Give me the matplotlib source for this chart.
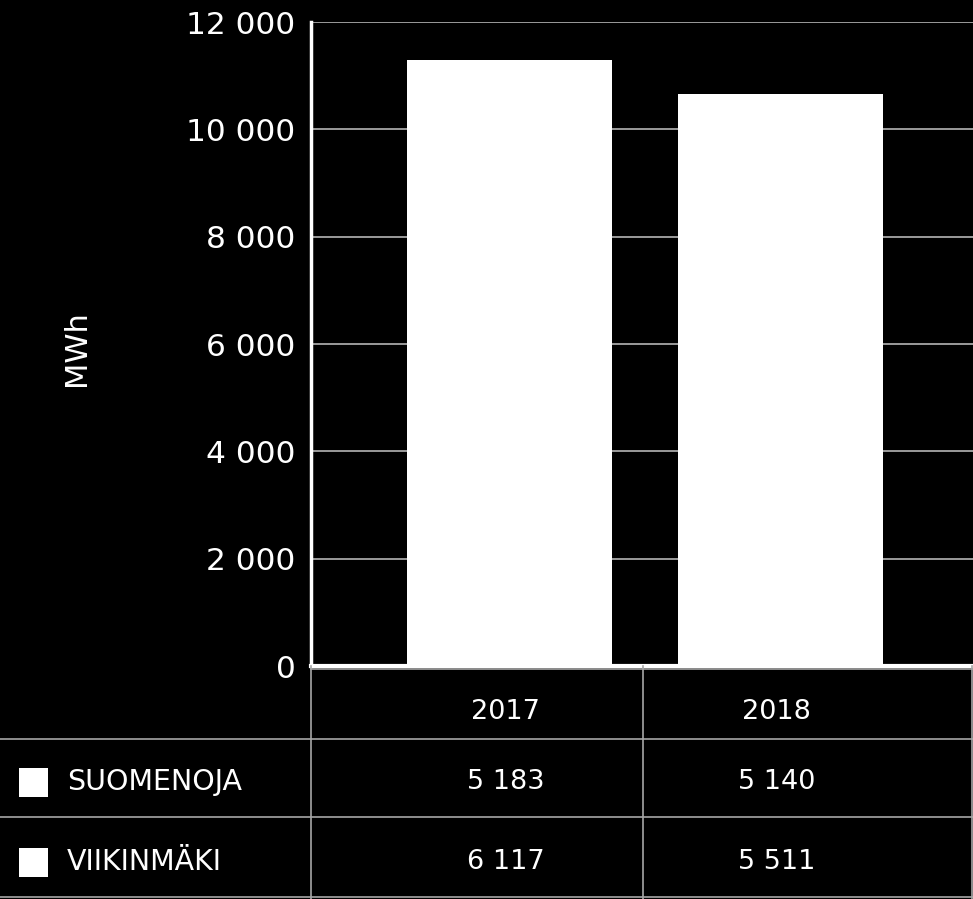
import matplotlib
matplotlib.use("Agg")
import matplotlib.pyplot as plt
from matplotlib.lines import Line2D
from matplotlib.patches import Rectangle
from matplotlib.ticker import FuncFormatter

# ---- data ----
years = ["2017", "2018"]
series_names = ["SUOMENOJA", "VIIKINMÄKI"]
suomenoja = [5183, 5140]
viikinmaki = [6117, 5511]
y_ticks = [0, 2000, 4000, 6000, 8000, 10000, 12000]
y_label = "MWh"

W, H = 973, 899
fig = plt.figure(figsize=(W / 100, H / 100), dpi=100, facecolor="black")
plt.rcParams["font.family"] = ["DejaVu Sans"]

def fx(px):
    return px / W

def fy(py):
    return 1 - py / H

ax_left, ax_right, ax_top, ax_bottom = 311, 973, 22, 666
ax = fig.add_axes([fx(ax_left), fy(ax_bottom), fx(ax_right - ax_left), fy(ax_top) - fy(ax_bottom)])
ax.set_facecolor("black")

x = list(range(len(years)))
bw = 0.756
ax.bar(x, suomenoja, width=bw, color="white", edgecolor="none", zorder=3)
ax.bar(x, viikinmaki, width=bw, bottom=suomenoja, color="white", edgecolor="none", zorder=3)

ax.set_xlim(-0.7325, 1.7103)
ax.set_ylim(0, 12000)
ax.set_yticks(y_ticks)
ax.yaxis.set_major_formatter(FuncFormatter(lambda v, p: f"{int(v):,}".replace(",", " ")))
ax.tick_params(axis="y", colors="white", labelsize=22.5, length=0, pad=11)
ax.tick_params(axis="x", length=0, labelbottom=False)
for t in ax.get_yticklabels():
    t.set_color("white")
ax.grid(axis="y", color="#c4c4c4", linewidth=1.1, zorder=1)
for s in ["top", "right"]:
    ax.spines[s].set_visible(False)
ax.spines["left"].set_color("white")
ax.spines["left"].set_linewidth(2.5)
ax.spines["bottom"].set_color("white")
ax.spines["bottom"].set_linewidth(3)
ax.spines["bottom"].set_zorder(4)

fig.text(fx(76), fy(348), y_label, rotation=90, color="white", fontsize=22,
         ha="center", va="center")

# ---- data table ----
line_col = "#a6a6a6"
def hline(py, x0, x1):
    fig.add_artist(Line2D([fx(x0), fx(x1)], [fy(py), fy(py)], color=line_col, linewidth=1.2))
def vline(px, y0, y1):
    fig.add_artist(Line2D([fx(px), fx(px)], [fy(y0), fy(y1)], color=line_col, linewidth=1.2))

hline(669, 311, 973)
hline(739, 0, 973)
hline(817, 0, 973)
hline(897, 0, 973)
vline(311, 666, 899)
vline(643, 666, 899)
vline(972, 666, 899)

# column centers follow bar positions
col_centers = [ax.transData.transform((xi, 0))[0] / W for xi in x]
row_y = [782, 862]
header_y = 712

for cx, yr in zip(col_centers, years):
    fig.text(cx - fx(4), fy(header_y), yr, color="white", fontsize=19.5, ha="center", va="center")

fmt = lambda v: f"{v:,}".replace(",", " ")
for ry, name, vals in zip(row_y, series_names, [suomenoja, viikinmaki]):
    fig.add_artist(Rectangle((fx(19), fy(ry + 14.5)), fx(29), fy(0) - fy(29),
                             facecolor="white", edgecolor="none", transform=fig.transFigure))
    fig.text(fx(67), fy(ry), name, color="white", fontsize=20.5, ha="left", va="center")
    for cx, v in zip(col_centers, vals):
        fig.text(cx - fx(4), fy(ry), fmt(v), color="white", fontsize=19.5, ha="center", va="center")

fig.savefig("out.png", dpi=100, facecolor="black")
